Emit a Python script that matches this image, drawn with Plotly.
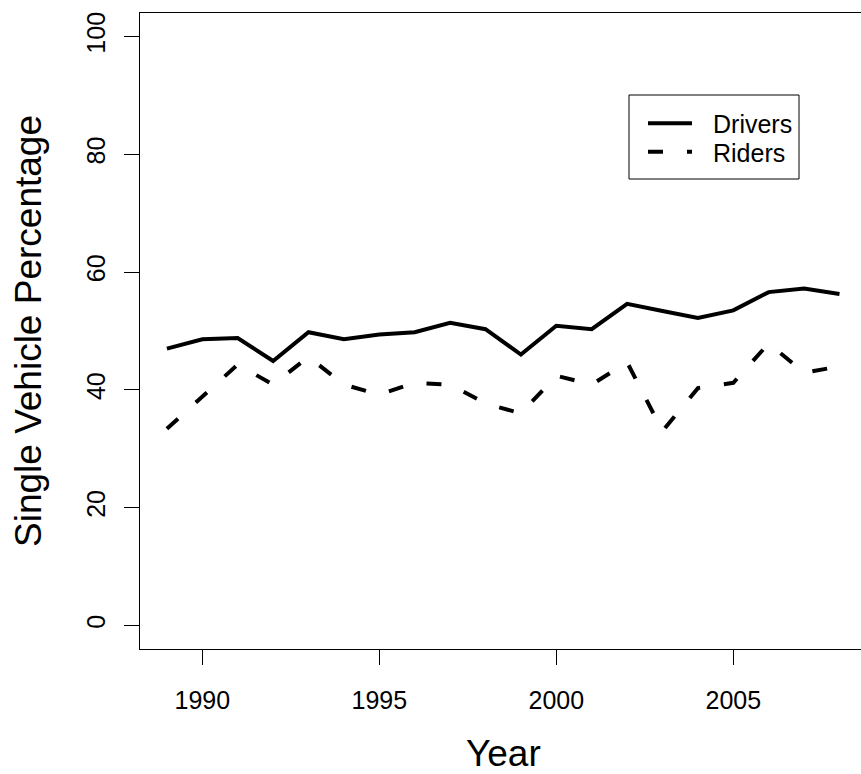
import plotly.graph_objects as go

# Share of crashes involving a single vehicle, by year
years = list(range(1989, 2009))
drivers = [47.0, 48.6, 48.8, 44.9, 49.8, 48.6, 49.4, 49.8, 51.4, 50.3,
           46.0, 50.9, 50.3, 54.6, 53.4, 52.2, 53.5, 56.6, 57.2, 56.3]
riders = [33.4, 38.9, 44.3, 40.9, 45.6, 40.9, 39.2, 41.2, 40.9, 37.7,
          36.0, 42.4, 40.9, 44.7, 33.0, 40.3, 41.2, 47.9, 42.9, 44.0]
y_ticks = [0, 20, 40, 60, 80, 100]
x_ticks = [1990, 1995, 2000, 2005]

W, H = 861, 774
ML, MR, MT, MB = 140, 0, 13, 125
PW, PH = W - ML - MR, H - MT - MB
FONT = "Liberation Sans, Arial, Helvetica, sans-serif"
DASH = "15px,24px"


def px_x(p):
    return (p - ML) / PW


def px_y(p):
    return (H - MB - p) / PH


fig = go.Figure()
fig.add_trace(go.Scatter(x=years, y=drivers, mode="lines", name="Drivers",
                         line=dict(color="black", width=4)))
fig.add_trace(go.Scatter(x=years, y=riders, mode="lines", name="Riders",
                         line=dict(color="black", width=4, dash=DASH)))

axis_common = dict(
    showgrid=False, zeroline=False, showline=True, linecolor="black",
    linewidth=1, ticks="outside", ticklen=15, tickwidth=1, tickcolor="black",
    tickfont=dict(family=FONT, size=25, color="black"),
)

fig.update_xaxes(range=[1988.24, 1988.24 + PW / 35.4], tickvals=x_ticks,
                 mirror=True, ticklabelstandoff=14, **axis_common)
fig.update_yaxes(range=[-4, 104], tickvals=y_ticks, tickangle=-90,
                 ticklabelstandoff=9, **axis_common)

shapes = []
annotations = []

# legend box and samples
shapes.append(dict(type="rect", xref="paper", yref="paper",
                   x0=px_x(629), x1=px_x(799), y0=px_y(179), y1=px_y(95),
                   line=dict(color="black", width=1), fillcolor="white", layer="above"))
for label, ypix, dash in [("Drivers", 123.3, "solid"), ("Riders", 151.7, DASH)]:
    shapes.append(dict(type="line", xref="paper", yref="paper",
                       x0=px_x(648), x1=px_x(692), y0=px_y(ypix), y1=px_y(ypix),
                       line=dict(color="black", width=4, dash=dash), layer="above"))
    annotations.append(dict(text=label, xref="paper", yref="paper",
                            x=px_x(711), y=px_y(ypix + 1), xanchor="left", yanchor="middle",
                            showarrow=False, font=dict(family=FONT, size=25, color="black")))

# axis titles
annotations.append(dict(text="Year", xref="paper", yref="paper",
                        x=px_x(503.5), y=px_y(754), xanchor="center", yanchor="middle",
                        showarrow=False, font=dict(family=FONT, size=37, color="black")))
annotations.append(dict(text="Single Vehicle Percentage", xref="paper", yref="paper",
                        x=px_x(28), y=0.5, xanchor="center", yanchor="middle",
                        textangle=-90, showarrow=False,
                        font=dict(family=FONT, size=37, color="black")))

fig.update_layout(
    width=W, height=H,
    margin=dict(l=ML, r=MR, t=MT, b=MB, pad=0),
    plot_bgcolor="white", paper_bgcolor="white",
    showlegend=False,
    shapes=shapes, annotations=annotations,
)

fig.write_html("out.html")
